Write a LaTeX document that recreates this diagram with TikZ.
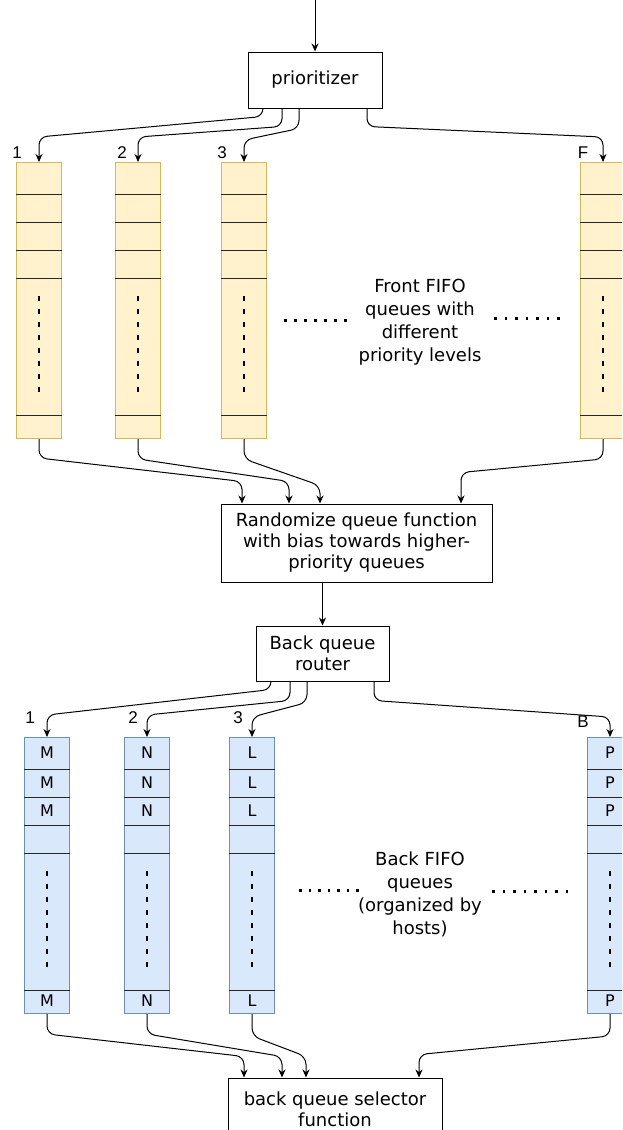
\documentclass[tikz,border=0pt]{standalone}
\usepackage{fontspec}
\setmainfont{DejaVu Sans}
\newfontfamily\numfont{Liberation Sans}
\usetikzlibrary{arrows.meta}

\definecolor{frontfill}{HTML}{FFF2CC}
\definecolor{frontline}{HTML}{D6B656}
\definecolor{backfill}{HTML}{DAE8FC}
\definecolor{backline}{HTML}{6C8EBF}

\begin{document}
\begin{tikzpicture}[x=1pt, y=1pt, >={Stealth[length=8pt,width=7pt]},
  box/.style={draw, line width=1pt, fill=white, align=center, inner sep=2pt,
    font=\fontsize{18}{21}\selectfont},
  note/.style={align=center, font=\fontsize{18}{23}\selectfont},
  num/.style={font=\numfont\fontsize{17}{17}\selectfont, inner sep=0pt},
  letter/.style={font=\fontsize{16}{16}\selectfont, inner sep=0pt},
  frontq/.style={draw=frontline, fill=frontfill, line width=1pt, inner sep=0pt,
    minimum width=45pt, minimum height=276pt, anchor=north west},
  backq/.style={draw=backline, fill=backfill, line width=1pt, inner sep=0pt,
    minimum width=45pt, minimum height=276pt, anchor=north west},
  cell/.style={line width=1pt, black!85},
  gap/.style={line width=2.2pt, dash pattern=on 5pt off 8pt},
  link/.style={->, line width=1pt, rounded corners=8pt}]

\useasboundingbox (0,0) rectangle (622,-1130);
\clip (0,0) rectangle (622,-1130);

% Boxes
\coordinate (in) at (315,0);
\node[box, minimum width=134pt, minimum height=56pt] (pri) at (315,-80) {prioritizer};
\node[box, minimum width=271pt, minimum height=78pt] (rnd) at (356.5,-543)
  {Randomize queue function\\with bias towards higher-\\priority queues};
\node[box, minimum width=133pt, minimum height=55pt] (rtr) at (322.5,-653.5) {Back queue\\router};
\node[box, minimum width=214pt, minimum height=62pt] (sel) at (335,-1109)
  {back queue selector\\function};

% Front queues
\node[frontq] (f1) at (16,-162) {};
\node[frontq] (f2) at (115,-162) {};
\node[frontq] (f3) at (221,-162) {};
\node[frontq] (fF) at (580,-162) {};

% Back queues
\node[backq] (b1) at (24,-737) {};
\node[backq] (b2) at (124,-737) {};
\node[backq] (b3) at (229,-737) {};
\node[backq] (bB) at (587,-737) {};

% Cells and gaps
\foreach \q in {f1,f2,f3,fF,b1,b2,b3,bB}{
  \foreach \d in {32,60,88,116,253}
    \draw[cell] ([yshift=-\d pt]\q.north west) -- ([yshift=-\d pt]\q.north east);
  \draw[gap] ([yshift=-134pt]\q.north) -- ([yshift=-232pt]\q.north);
}

% Hosts in back queues
\foreach \q/\c in {b1/M,b2/N,b3/L,bB/P}{
  \node[letter] (\q-a) at ([yshift=-16pt]\q.north) {\c};
  \node[letter] (\q-b) at ([yshift=-46pt]\q.north) {\c};
  \node[letter] (\q-c) at ([yshift=-74pt]\q.north) {\c};
  \node[letter] (\q-d) at ([yshift=-264pt]\q.north) {\c};
}

% Queue numbers
\node[num] (nf1) at (17,-153) {1};
\node[num] (nf2) at (122,-153) {2};
\node[num] (nf3) at (222,-153) {3};
\node[num] (nfF) at (583,-153) {F};
\node[num] (nb1) at (30,-718) {1};
\node[num] (nb2) at (133,-718) {2};
\node[num] (nb3) at (238,-718) {3};
\node[num] (nbB) at (583,-722) {B};

% Notes
\node[note] (ftxt) at (420,-322) {Front FIFO\\queues with\\different\\priority levels};
\node[note] (btxt) at (420,-894) {Back FIFO\\queues\\(organized by\\hosts)};
\foreach \i in {0,...,6}{
  \fill (284+10*\i,-322) rectangle ++(2.6,2.6);
  \fill (494+10.5*\i,-320) rectangle ++(2.6,2.6);
  \fill (299+9.5*\i,-892) rectangle ++(2.6,2.6);
}
\foreach \i in {0,...,7}
  \fill (492+10.5*\i,-893) rectangle ++(2.6,2.6);

% Input
\draw[link] (in) -- (pri.north);

% Prioritizer to front queues
\draw[link] ([xshift=-52pt]pri.south) -- ++(0,-8) -- ([yshift=25pt]f1.north) -- (f1.north);
\draw[link] ([xshift=-33pt]pri.south) -- ++(0,-18) -- ([yshift=25pt]f2.north) -- (f2.north);
\draw[link] ([xshift=-16pt]pri.south) -- ++(0,-20) -- ([yshift=22pt]f3.north) -- (f3.north);
\draw[link] ([xshift=52pt]pri.south) -- ++(0,-18) -- ([yshift=25pt]fF.north) -- (fF.north);

% Front queues to randomizer
\draw[link] (f1.south) -- ++(0,-19) -- ([xshift=-114.5pt,yshift=22pt]rnd.north) -- ([xshift=-114.5pt]rnd.north);
\draw[link] (f2.south) -- ++(0,-20) -- ([xshift=-67.5pt,yshift=22pt]rnd.north) -- ([xshift=-67.5pt]rnd.north);
\draw[link] (f3.south) -- ++(0,-20) -- ([xshift=-36.5pt,yshift=18pt]rnd.north) -- ([xshift=-36.5pt]rnd.north);
\draw[link] (fF.south) -- ++(0,-20) -- ([xshift=104.5pt,yshift=31pt]rnd.north) -- ([xshift=104.5pt]rnd.north);

% Randomizer to router
\draw[link] (rtr.north |- rnd.south) -- (rtr.north);

% Router to back queues
\draw[link] ([xshift=-51.5pt]rtr.south) -- ++(0,-8) -- ([yshift=22pt]b1.north) -- (b1.north);
\draw[link] ([xshift=-32.5pt]rtr.south) -- ++(0,-19) -- ([yshift=22pt]b2.north) -- (b2.north);
\draw[link] ([xshift=-15.5pt]rtr.south) -- ++(0,-21) -- ([yshift=20pt]b3.north) -- (b3.north);
\draw[link] ([xshift=51.5pt]rtr.south) -- ++(0,-19) -- ([yshift=20pt]bB.north) -- (bB.north);

% Back queues to selector
\draw[link] (b1.south) -- ++(0,-20) -- ([xshift=-91pt,yshift=21pt]sel.north) -- ([xshift=-91pt]sel.north);
\draw[link] (b2.south) -- ++(0,-20) -- ([xshift=-53pt,yshift=21pt]sel.north) -- ([xshift=-53pt]sel.north);
\draw[link] (b3.south) -- ++(0,-22) -- ([xshift=-29pt,yshift=21pt]sel.north) -- ([xshift=-29pt]sel.north);
\draw[link] (bB.south) -- ++(0,-22) -- ([xshift=84pt,yshift=23pt]sel.north) -- ([xshift=84pt]sel.north);

\end{tikzpicture}
\end{document}
